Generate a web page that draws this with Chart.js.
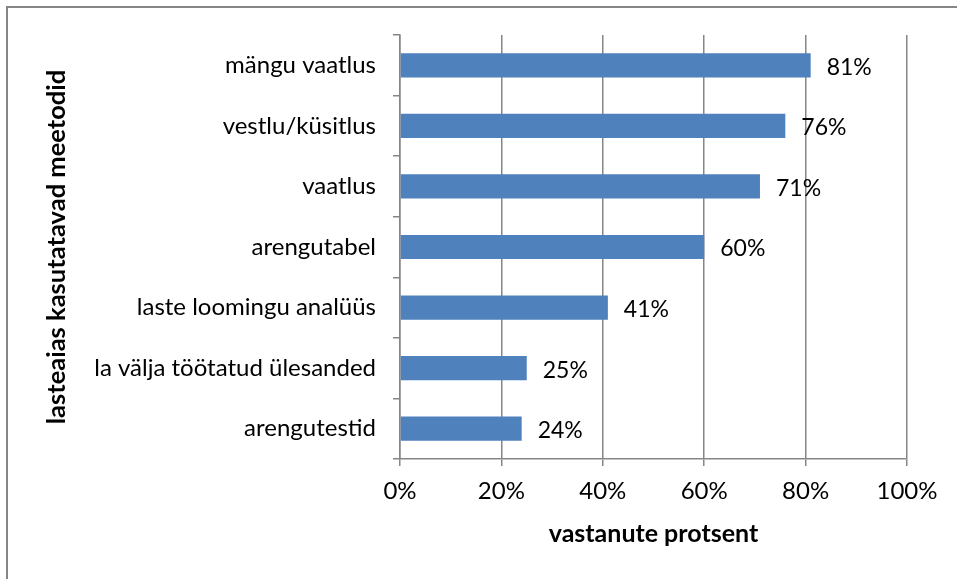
<!DOCTYPE html>
<html>
<head>
<meta charset="utf-8">
<script src="https://cdn.jsdelivr.net/npm/chart.js@4"></script>
<style>
  html, body { margin: 0; padding: 0; background: #fff; }
  #wrap { width: 957px; height: 579px; }
</style>
</head>
<body>
<div id="wrap"><canvas id="myChart" width="957" height="579"></canvas></div>
<script>
const labels = ['mängu vaatlus', 'vestlu/küsitlus', 'vaatlus', 'arengutabel',
  'laste loomingu analüüs', 'la välja töötatud ülesanded', 'arengutestid'];
const values = [81, 76, 71, 60, 41, 25, 24];
const xTicks = [0, 20, 40, 60, 80, 100];

const FONT = 'Lato, "Open Sans", sans-serif';
const GRID = '#868686';

// outer frame, like the chart area border in the original
const framePlugin = {
  id: 'frame',
  beforeDraw(chart) {
    const ctx = chart.ctx;
    ctx.save();
    ctx.strokeStyle = GRID;
    ctx.lineWidth = 2;
    ctx.strokeRect(7, 7, chart.width + 10, chart.height + 10);
    ctx.restore();
  }
};

// percentage labels to the right of each bar
const valueLabels = {
  id: 'valueLabels',
  afterDatasetsDraw(chart) {
    const ctx = chart.ctx;
    const meta = chart.getDatasetMeta(0);
    ctx.save();
    ctx.font = '23px ' + FONT;
    ctx.fillStyle = '#000';
    ctx.textAlign = 'left';
    ctx.textBaseline = 'middle';
    meta.data.forEach((bar, i) => {
      ctx.fillText(values[i] + '%', bar.x + 16, bar.y + 2);
    });
    ctx.restore();
  }
};

const data = {
  labels: labels,
  datasets: [{
    data: values,
    backgroundColor: '#4F81BD',
    borderWidth: 0,
    categoryPercentage: 0.8,
    barPercentage: 0.5
  }]
};

const config = {
  type: 'bar',
  data: data,
  options: {
    indexAxis: 'y',
    responsive: false,
    animation: false,
    layout: { padding: { top: 35, right: 50, left: 0, bottom: 0 } },
    plugins: {
      legend: { display: false },
      tooltip: { enabled: false }
    },
    scales: {
      x: {
        min: 0,
        max: 100,
        afterFit(scale) { scale.height = 120; },
        afterBuildTicks(scale) { scale.ticks = xTicks.map(v => ({ value: v })); },
        ticks: {
          color: '#000',
          font: { family: FONT, size: 24 },
          padding: 11,
          maxRotation: 0,
          callback: v => v + '%'
        },
        grid: { color: GRID, lineWidth: 1.5, tickLength: 7 },
        border: { color: GRID, width: 1.5 },
        title: {
          display: true,
          text: 'vastanute protsent',
          color: '#000',
          font: { family: FONT, size: 25, weight: 'bold' },
          padding: { top: 0, bottom: 30 }
        }
      },
      y: {
        afterFit(scale) { scale.width = 400; },
        ticks: {
          color: '#000',
          font: { family: FONT, size: 24 },
          padding: 17
        },
        grid: { drawOnChartArea: false, color: GRID, lineWidth: 1.5, tickLength: 7, offset: true },
        border: { color: GRID, width: 1.5 },
        title: {
          display: true,
          text: 'lasteaias kasutatavad meetodid',
          color: '#000',
          font: { family: FONT, size: 25.5, weight: 'bold' },
          padding: { top: 41, bottom: 0 }
        }
      }
    }
  },
  plugins: [framePlugin, valueLabels]
};

const myChart = new Chart(document.getElementById('myChart'), config);
</script>
</body>
</html>
